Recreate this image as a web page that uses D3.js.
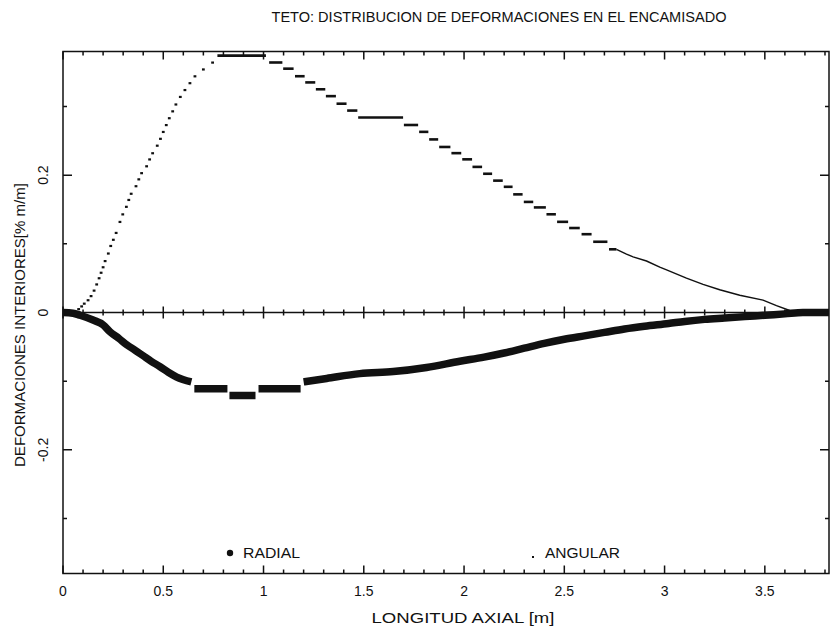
<!DOCTYPE html>
<html><head><meta charset="utf-8">
<script src="https://cdn.jsdelivr.net/npm/d3@7"></script>
<style>body{margin:0;background:#fff}</style>
</head><body>
<svg id="c" width="836" height="635"></svg>
<script>
const title = "TETO: DISTRIBUCION DE DEFORMACIONES EN EL ENCAMISADO";
const xLabel = "LONGITUD AXIAL [m]";
const yLabel = "DEFORMACIONES INTERIORES[% m/m]";
const seriesNames = ["RADIAL", "ANGULAR"];
const xMajorTicks = [0, 0.5, 1, 1.5, 2, 2.5, 3, 3.5];
const xTickLabels = ["0", "0.5", "1", "1.5", "2", "2.5", "3", "3.5"];
const xMinorTicks = [0.1,0.2,0.3,0.4,0.6,0.7,0.8,0.9,1.1,1.2,1.3,1.4,1.6,1.7,1.8,1.9,2.1,2.2,2.3,2.4,2.6,2.7,2.8,2.9,3.1,3.2,3.3,3.4,3.6,3.7,3.8];
const yMajorTicks = [-0.2, 0, 0.2];
const yTickLabels = ["-0.2", "0", "0.2"];
const yMinorTicks = [-0.3, -0.1, 0.1, 0.3];

// RADIAL series (null = break between stepped segments)
const radialX = [0, 0.05, 0.085, 0.15, 0.2, 0.234, 0.28, 0.318, 0.36, 0.40, 0.44, 0.484, 0.525, 0.567, 0.64,
  0.647,
  0.655, 0.82,
  0.827,
  0.83, 0.96,
  0.967,
  0.975, 1.185,
  1.192,
  1.2, 1.315, 1.48, 1.647, 1.813, 1.979, 2.1, 2.2, 2.3, 2.4, 2.5, 2.6, 2.7, 2.8, 2.9, 3.02, 3.1, 3.2, 3.3, 3.4, 3.5, 3.6, 3.69, 3.82];
const radialY = [0, -0.001, -0.004, -0.011, -0.018, -0.028, -0.038, -0.047, -0.055, -0.063, -0.071, -0.079, -0.087, -0.094, -0.101,
  null,
  -0.111, -0.111,
  null,
  -0.121, -0.121,
  null,
  -0.111, -0.111,
  null,
  -0.101, -0.096, -0.089, -0.086, -0.080, -0.071, -0.065, -0.059, -0.052, -0.045, -0.039, -0.034, -0.029, -0.024, -0.020, -0.016, -0.013, -0.010, -0.008, -0.006, -0.004, -0.002, 0, 0];

// ANGULAR series: rising single points
const angDotX = [0.05, 0.078, 0.093, 0.106, 0.125, 0.14, 0.155, 0.168, 0.18, 0.19, 0.2, 0.21, 0.226, 0.238, 0.251, 0.265, 0.284, 0.298, 0.316, 0.328, 0.34, 0.364, 0.378, 0.392, 0.417, 0.432, 0.447, 0.47, 0.486, 0.5, 0.515, 0.53, 0.547, 0.563, 0.585, 0.608, 0.633, 0.658, 0.7, 0.746];
const angDotY = [0.000, 0.005, 0.009, 0.013, 0.018, 0.024, 0.032, 0.041, 0.050, 0.058, 0.066, 0.075, 0.086, 0.097, 0.106, 0.116, 0.132, 0.143, 0.154, 0.164, 0.173, 0.184, 0.194, 0.203, 0.213, 0.223, 0.232, 0.243, 0.253, 0.263, 0.273, 0.283, 0.293, 0.303, 0.314, 0.324, 0.334, 0.344, 0.354, 0.364];
// ANGULAR series: runs of equal value (start, end, value)
const angRunX0 = [0.77, 1.028, 1.098, 1.157, 1.208, 1.261, 1.311, 1.364, 1.417, 1.472, 1.700, 1.776, 1.826, 1.876, 1.937, 1.991, 2.042, 2.095, 2.145, 2.198, 2.245, 2.298, 2.348, 2.411, 2.464, 2.524, 2.586, 2.644, 2.723];
const angRunX1 = [1.012, 1.094, 1.150, 1.205, 1.258, 1.308, 1.361, 1.414, 1.468, 1.696, 1.771, 1.822, 1.871, 1.932, 1.986, 2.040, 2.090, 2.140, 2.193, 2.242, 2.292, 2.345, 2.408, 2.458, 2.519, 2.577, 2.636, 2.715, 2.760];
const angRunY = [0.374, 0.364, 0.355, 0.344, 0.335, 0.325, 0.315, 0.304, 0.294, 0.284, 0.273, 0.263, 0.252, 0.241, 0.232, 0.223, 0.212, 0.202, 0.192, 0.183, 0.172, 0.161, 0.153, 0.143, 0.132, 0.123, 0.114, 0.103, 0.092];
// ANGULAR series: continuous tail
const angTailX = [2.76, 2.81, 2.843, 2.91, 2.976, 3.01, 3.109, 3.192, 3.275, 3.375, 3.491, 3.558, 3.624, 3.657, 3.82];
const angTailY = [0.092, 0.085, 0.081, 0.075, 0.066, 0.062, 0.050, 0.041, 0.033, 0.025, 0.018, 0.010, 0.003, 0, 0];

const W = 836, H = 635;
const L = 63, R = 829, T = 51.5, B = 573.5;
const ink = "#111";
const font = "'Liberation Sans', Arial, sans-serif";

const svg = d3.select("#c");
svg.append("rect").attr("width", W).attr("height", H).attr("fill", "#fff");

const x = d3.scaleLinear().domain([0, 3.82]).range([L, R]);
const y = d3.scaleLinear().domain([-0.38, 0.38]).range([B, T]);

// frame
svg.append("rect").attr("x", L).attr("y", T).attr("width", R - L).attr("height", B - T)
  .attr("fill", "none").attr("stroke", ink).attr("stroke-width", 1.5);
// zero line
svg.append("line").attr("x1", L).attr("x2", R).attr("y1", y(0)).attr("y2", y(0))
  .attr("stroke", ink).attr("stroke-width", 1.3);

// tick marks built from the scales
function xTickPath(values, y0, up, down) {
  const p = d3.path();
  values.forEach(d => { p.moveTo(x(d), y0 - up); p.lineTo(x(d), y0 + down); });
  svg.append("path").attr("d", p.toString()).attr("fill", "none")
    .attr("stroke", ink).attr("stroke-width", 1.5);
}
function yTickPath(values, x0, left, right) {
  const p = d3.path();
  values.forEach(d => { p.moveTo(x0 - left, y(d)); p.lineTo(x0 + right, y(d)); });
  svg.append("path").attr("d", p.toString()).attr("fill", "none")
    .attr("stroke", ink).attr("stroke-width", 1.5);
}
// bottom border (inward)
xTickPath(xMinorTicks, B, 4, 0);
xTickPath(xMajorTicks, B, 8, 0);
// top border (inward)
xTickPath(xMinorTicks, T, 0, 4);
xTickPath(xMajorTicks, T, 0, 8);
// zero line, both sides
xTickPath(xMinorTicks, y(0), 3, 3);
xTickPath(xMajorTicks, y(0), 6, 6);
// left / right borders (inward)
yTickPath(yMinorTicks, L, 0, 4);
yTickPath(yMajorTicks, L, 0, 9);
yTickPath(yMinorTicks, R, 4, 0);
yTickPath(yMajorTicks, R, 9, 0);

// x tick labels
svg.append("g").selectAll("text").data(xMajorTicks).join("text")
  .attr("x", d => x(d)).attr("y", 596)
  .attr("text-anchor", "middle").attr("font-family", font).attr("font-size", 14).attr("fill", ink)
  .text((d, i) => xTickLabels[i]);
// y tick labels (rotated)
svg.append("g").selectAll("text").data(yMajorTicks).join("text")
  .attr("transform", d => `translate(48,${y(d)}) rotate(-90)`)
  .attr("text-anchor", "middle").attr("font-family", font).attr("font-size", 14).attr("fill", ink)
  .text((d, i) => yTickLabels[i]);

// titles
svg.append("text").attr("x", 499).attr("y", 22).attr("text-anchor", "middle")
  .attr("font-family", font).attr("font-size", 14).attr("fill", ink)
  .attr("textLength", 455).attr("lengthAdjust", "spacingAndGlyphs").text(title);
svg.append("text").attr("x", 463).attr("y", 623).attr("text-anchor", "middle")
  .attr("font-family", font).attr("font-size", 14).attr("fill", ink)
  .attr("textLength", 183).attr("lengthAdjust", "spacingAndGlyphs").text(xLabel);
svg.append("text").attr("transform", "translate(25,325) rotate(-90)").attr("text-anchor", "middle")
  .attr("font-family", font).attr("font-size", 14).attr("fill", ink)
  .attr("textLength", 284).attr("lengthAdjust", "spacingAndGlyphs").text(yLabel);

// RADIAL
const radial = radialX.map((d, i) => ({x: d, v: radialY[i]}));
svg.append("path").datum(radial)
  .attr("d", d3.line().defined(d => d.v !== null).x(d => x(d.x)).y(d => y(d.v)).curve(d3.curveMonotoneX))
  .attr("fill", "none").attr("stroke", ink).attr("stroke-width", 7.5)
  .attr("stroke-linecap", "butt").attr("stroke-linejoin", "round");

// ANGULAR dots
svg.append("g").selectAll("rect").data(angDotX.map((d, i) => ({x: d, v: angDotY[i]}))).join("rect")
  .attr("x", d => x(d.x) - 1.4).attr("y", d => y(d.v) - 1).attr("width", 2.8).attr("height", 2.2)
  .attr("fill", ink);
// ANGULAR runs
svg.append("g").selectAll("line").data(angRunX0.map((d, i) => ({x0: d, x1: angRunX1[i], v: angRunY[i]}))).join("line")
  .attr("x1", d => x(d.x0)).attr("x2", d => x(d.x1)).attr("y1", d => y(d.v)).attr("y2", d => y(d.v))
  .attr("stroke", ink).attr("stroke-width", 2.6);
// ANGULAR tail
svg.append("path").datum(angTailX.map((d, i) => ({x: d, v: angTailY[i]})))
  .attr("d", d3.line().x(d => x(d.x)).y(d => y(d.v)))
  .attr("fill", "none").attr("stroke", ink).attr("stroke-width", 1.5);

// legend
svg.append("circle").attr("cx", 230).attr("cy", 553).attr("r", 3.2).attr("fill", ink);
svg.append("text").attr("x", 243).attr("y", 558).attr("font-family", font).attr("font-size", 14).attr("fill", ink)
  .attr("textLength", 57).attr("lengthAdjust", "spacingAndGlyphs").text(seriesNames[0]);
svg.append("rect").attr("x", 532).attr("y", 556).attr("width", 2).attr("height", 2).attr("fill", ink);
svg.append("text").attr("x", 545).attr("y", 558).attr("font-family", font).attr("font-size", 14).attr("fill", ink)
  .attr("textLength", 75).attr("lengthAdjust", "spacingAndGlyphs").text(seriesNames[1]);
</script>
</body></html>
